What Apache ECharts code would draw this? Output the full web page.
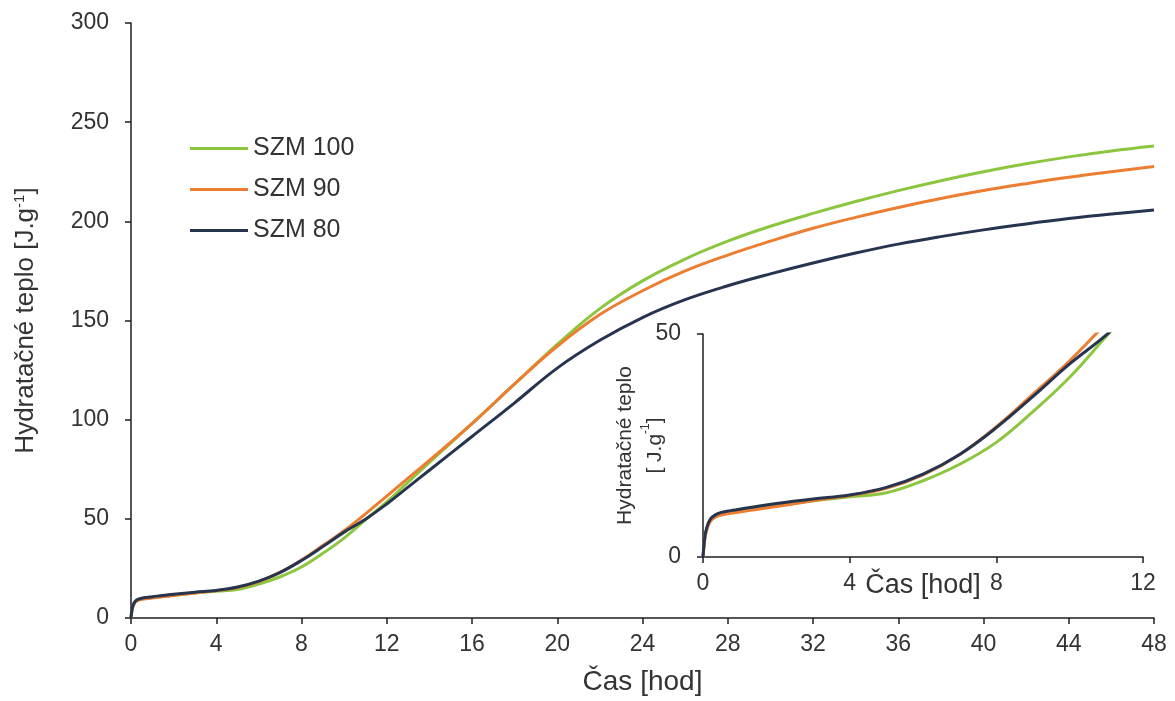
<!DOCTYPE html>
<html>
<head>
<meta charset="utf-8">
<script src="https://cdn.jsdelivr.net/npm/echarts@6/dist/echarts.min.js"></script>
<style>
html,body{margin:0;padding:0;background:#fff;}
#c{width:1175px;height:701px;}
</style>
</head>
<body>
<div id="c"></div>
<script>
// time in hours
var hours = [0, 0.05, 0.1, 0.2, 0.35, 0.5, 0.75, 1, 1.5, 2, 3, 4, 5, 6, 7, 8, 9, 10, 11, 12, 13, 14, 16, 18, 20, 22, 24, 26, 28, 30, 32, 34, 36, 38, 40, 42, 44, 46, 48];
var seriesNames = ['SZM 100', 'SZM 90', 'SZM 80'];
var szm100 = [0, 4.2, 6.2, 8.2, 9.2, 9.6, 10.0, 10.3, 10.9, 11.5, 12.6, 13.5, 14.4, 17.1, 20.8, 25.7, 32.6, 40.3, 49.5, 58.5, 68.5, 78.5, 98, 118, 138, 156, 170, 181, 190, 197.5, 204, 210, 215.5, 220.5, 225, 229, 232.5, 235.5, 238];
var szm90  = [0, 4.0, 6.0, 8.0, 9.0, 9.4, 9.8, 10.1, 10.7, 11.3, 12.6, 13.8, 15.4, 18.4, 23.0, 29.2, 36.5, 44.0, 52.5, 61.5, 70.5, 79.5, 98, 118, 137, 153, 165, 175, 183, 190, 196.5, 202, 207, 211.5, 215.5, 219, 222.2, 225, 227.6];
var szm80  = [0, 4.5, 6.5, 8.5, 9.5, 10.0, 10.4, 10.7, 11.4, 12.0, 13.0, 13.9, 15.6, 18.6, 23.0, 29.0, 36.0, 43.3, 49.8, 57.5, 66, 74.5, 91.5, 108.5, 126, 140, 151.5, 160.5, 167.5, 173.5, 179, 184, 188.5, 192.3, 195.7, 198.7, 201.4, 203.7, 205.7];
var mainXTicks = [0, 48, 4];   // min, max, interval
var mainYTicks = [0, 300, 50];
var insetXTicks = [0, 12, 4];
var insetYTicks = [0, 50, 50];
var colors = ['#8CC63F', '#ED7D31', '#263450'];

function pairs(vals){ return hours.map(function(h,i){ return [h, vals[i]]; }); }
var allVals = [szm100, szm90, szm80];

var textColor = '#333333';
var axisColor = '#1e1e1e';
var font = 'Liberation Sans, Arial, sans-serif';

function axisCommon(){
  return {
    axisLine:{show:true, onZero:false, lineStyle:{color:axisColor, width:1.5}},
    axisTick:{show:true, inside:false, length:6, lineStyle:{color:axisColor, width:1.5}},
    splitLine:{show:false},
    nameMoveOverlap:false,
    axisLabel:{color:textColor, fontSize:23, fontFamily:font}
  };
}

var xMain = Object.assign(axisCommon(), {
  type:'value', gridIndex:0, min:mainXTicks[0], max:mainXTicks[1], interval:mainXTicks[2],
  name:'Čas [hod]', nameLocation:'middle', nameGap:50,
  nameTextStyle:{color:textColor, fontSize:28, fontFamily:font}
});
xMain.axisLabel.margin = 15;
var yMain = Object.assign(axisCommon(), {
  type:'value', gridIndex:0, min:mainYTicks[0], max:mainYTicks[1], interval:mainYTicks[2],
  name:'Hydratačné teplo [J.g{s|-1}]', nameLocation:'middle', nameGap:92,
  nameTextStyle:{color:textColor, fontSize:26, fontFamily:font,
    rich:{s:{fontSize:15, fontFamily:font, color:textColor, verticalAlign:'top', padding:[0,0,12,0]}}}
});
yMain.axisLabel.margin = 22;

var xIn = Object.assign(axisCommon(), {
  type:'value', gridIndex:1, min:insetXTicks[0], max:insetXTicks[1], interval:insetXTicks[2],
  name:'Čas [hod]', nameLocation:'middle', nameGap:15,
  nameTextStyle:{color:textColor, fontSize:27, fontFamily:font}
});
xIn.axisLabel.margin = 15;
var yIn = Object.assign(axisCommon(), {
  type:'value', gridIndex:1, min:insetYTicks[0], max:insetYTicks[1], interval:insetYTicks[2],
  name:'Hydratačné teplo\n[ J.g{s|-1}]', nameLocation:'middle', nameGap:33,
  nameTextStyle:{color:textColor, fontSize:21, fontFamily:font, lineHeight:30,
    rich:{s:{fontSize:12, fontFamily:font, color:textColor, verticalAlign:'top', padding:[0,0,10,0]}}}
});
yIn.axisLabel.margin = 22;

var series = [];
[0,1].forEach(function(g){
  seriesNames.forEach(function(n,i){
    series.push({
      name:n, type:'line', xAxisIndex:g, yAxisIndex:g,
      data:pairs(allVals[i]), showSymbol:false, symbol:'none',
      smooth:0.4, clip:true,
      lineStyle:{color:colors[i], width:3}, itemStyle:{color:colors[i]},
      z: 2 + i
    });
  });
});

var chart = echarts.init(document.getElementById('c'), null, {renderer:'canvas'});
chart.setOption({
  animation:false,
  backgroundColor:'#ffffff',
  textStyle:{fontFamily:font},
  legend:{
    data:seriesNames, orient:'vertical', left:190, top:136, padding:0,
    icon:'rect', itemWidth:58, itemHeight:3, itemGap:16,
    textStyle:{color:textColor, fontSize:25, fontFamily:font}
  },
  grid:[
    {left:131, right:21, top:23, bottom:83},
    {left:703, right:32, top:334, bottom:144}
  ],
  xAxis:[xMain, xIn],
  yAxis:[yMain, yIn],
  series:series
});
</script>
</body>
</html>
